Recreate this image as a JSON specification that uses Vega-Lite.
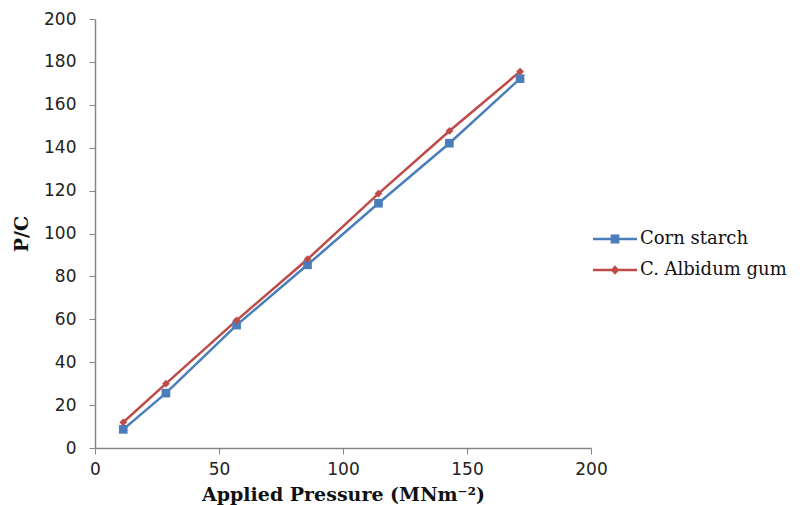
{
  "$schema": "https://vega.github.io/schema/vega-lite/v6.json",
  "autosize": "none",
  "width": 496,
  "height": 429,
  "padding": {"left": 95, "top": 19, "right": 209, "bottom": 57},
  "background": "white",
  "config": {"view": {"stroke": null}},
  "data": {
    "values": [
      {"pressure": 11.4, "pc": 8.7, "series": "Corn starch"},
      {"pressure": 28.6, "pc": 25.6, "series": "Corn starch"},
      {"pressure": 57.1, "pc": 57.3, "series": "Corn starch"},
      {"pressure": 85.7, "pc": 85.4, "series": "Corn starch"},
      {"pressure": 114.3, "pc": 114.1, "series": "Corn starch"},
      {"pressure": 142.9, "pc": 142.1, "series": "Corn starch"},
      {"pressure": 171.4, "pc": 172.2, "series": "Corn starch"},
      {"pressure": 11.4, "pc": 12.0, "series": "C. Albidum gum"},
      {"pressure": 28.6, "pc": 30.0, "series": "C. Albidum gum"},
      {"pressure": 57.1, "pc": 59.5, "series": "C. Albidum gum"},
      {"pressure": 85.7, "pc": 88.0, "series": "C. Albidum gum"},
      {"pressure": 114.3, "pc": 118.6, "series": "C. Albidum gum"},
      {"pressure": 142.9, "pc": 147.8, "series": "C. Albidum gum"},
      {"pressure": 171.4, "pc": 175.5, "series": "C. Albidum gum"}
    ]
  },
  "encoding": {
    "x": {
      "field": "pressure", "type": "quantitative",
      "scale": {"domain": [0, 200], "nice": false, "zero": false},
      "axis": {
        "title": "Applied Pressure (MNm⁻²)", "values": [0, 50, 100, 150, 200],
        "grid": false, "domainColor": "#868686", "tickColor": "#868686", "domainWidth": 1.5,
        "tickSize": 6, "labelFont": "DejaVu Sans", "labelFontSize": 17, "labelColor": "#222",
        "labelPadding": 7, "labelFlush": false, "titleFont": "DejaVu Serif", "titleFontSize": 19, "titleFontWeight": "bold",
        "titleColor": "#111", "titlePadding": 8
      }
    },
    "y": {
      "field": "pc", "type": "quantitative",
      "scale": {"domain": [0, 200], "nice": false},
      "axis": {
        "title": "P/C", "values": [0, 20, 40, 60, 80, 100, 120, 140, 160, 180, 200],
        "grid": false, "domainColor": "#868686", "tickColor": "#868686", "domainWidth": 1.5,
        "tickSize": 6, "labelFont": "DejaVu Sans", "labelFontSize": 17, "labelColor": "#222",
        "labelPadding": 13, "labelFlush": false, "titleFont": "DejaVu Serif", "titleFontSize": 19, "titleFontWeight": "bold",
        "titleColor": "#111", "titlePadding": 12
      }
    },
    "color": {
      "field": "series", "type": "nominal",
      "scale": {"domain": ["Corn starch", "C. Albidum gum"], "range": ["#4A7EBB", "#BE4B48"]},
      "legend": {
        "title": null, "orient": "none", "legendX": 498, "legendY": 198,
        "labelFont": "DejaVu Serif", "labelFontSize": 18, "labelColor": "#111", "labelLimit": 300,
        "symbolSize": 1936, "symbolStrokeWidth": 0, "rowPadding": -8, "labelOffset": 3,
        "encode": {
          "symbols": {
            "update": {
              "shape": {"signal": "datum.label == 'Corn starch' ? 'M-1,-0.057H1V0.057H-1Z M-0.2,-0.2H0.2V0.2H-0.2Z' : 'M-1,-0.057H1V0.057H-1Z M0,-0.22L0.2,0L0,0.22L-0.2,0Z'"},
              "fillOpacity": {"value": 1}
            }
          }
        }
      }
    }
  },
  "layer": [
    {
      "mark": {"type": "line", "strokeWidth": 2.5},
      "encoding": {"detail": {"field": "series"}}
    },
    {
      "transform": [{"filter": "datum.series == 'Corn starch'"}],
      "mark": {"type": "point", "filled": true, "opacity": 1, "shape": "square", "size": 75}
    },
    {
      "transform": [{"filter": "datum.series == 'C. Albidum gum'"}],
      "mark": {"type": "point", "filled": true, "opacity": 1, "shape": "diamond", "size": 60}
    }
  ]
}
